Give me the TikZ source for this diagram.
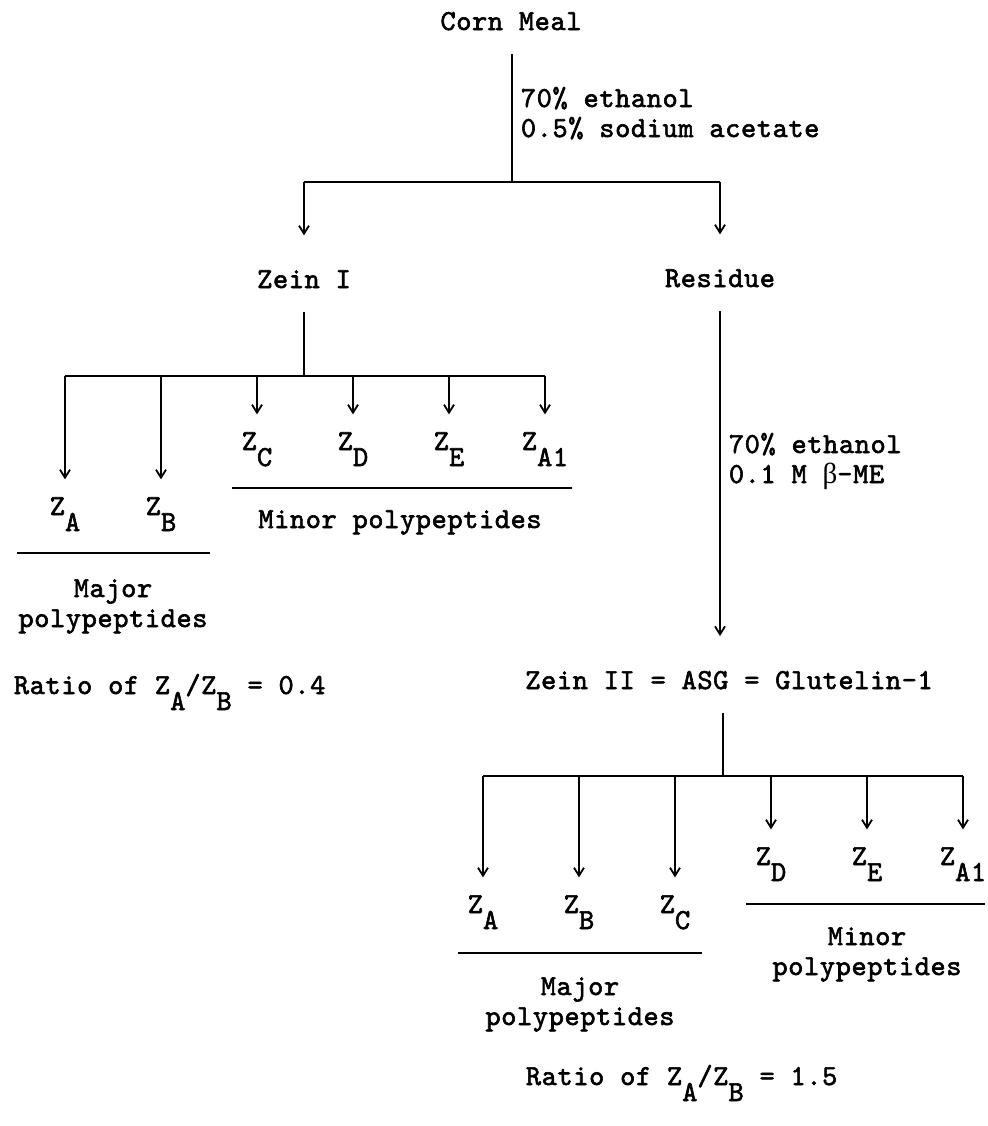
\documentclass[tikz,border=0pt]{standalone}
\usepackage{fontspec}
\setmainfont{lmmono10-regular.otf}[LetterSpace=2,FakeBold=2]
\newfontfamily\grk{Liberation Serif}
\usetikzlibrary{arrows.meta}
\newcommand{\zsub}[1]{\raisebox{-8pt}{#1}}

\begin{document}
\begin{tikzpicture}[x=0.5pt,y=-0.5pt,>={Straight Barb[length=4pt,width=5pt]},line width=0.9pt,
    every node/.style={font=\fontsize{14.5}{15}\selectfont},
    stage/.style={anchor=base,inner xsep=0pt,inner ysep=11.5pt},
    frac/.style={anchor=base,inner xsep=0pt,inner ysep=8.5pt},
    note/.style={anchor=base west,align=left,inner sep=0pt},
    group/.style={anchor=base,align=center,inner sep=0pt},
    feed/.style={->,shorten >=5.5pt}]
    \useasboundingbox (0,0) rectangle (987,1126);
    % first extraction
    \node[stage] (corn) at (511,30) {Corn Meal};
    \node[note] (reag1) at (520,137) {70\% ethanol\\0.5\% sodium acetate};
    \node[stage] (zein1) at (304,288) {Zein I};
    \node[stage] (resid) at (720,287) {Residue};
    \coordinate (j0) at (512,182);\coordinate (j0l) at (304,182);\coordinate (j0r) at (720,182);
    \draw (j0 |- corn.south)--(j0);\draw (j0l)--(j0r);
    \draw[feed] (j0l)--(j0l |- zein1.north);\draw[feed] (j0r)--(j0r |- resid.north);
    % zein I polypeptides
    \coordinate (a1) at (65,376);\coordinate (b1) at (161,376);\coordinate (c1) at (257,376);
    \coordinate (d1) at (353,376);\coordinate (e1) at (449,376);\coordinate (f1) at (545,376);
    \draw (zein1.south)--(zein1.south |- a1);\draw (a1)--(f1);
    \node[frac] (za1) at (65,515) {Z\zsub{A}};
    \node[frac] (zb1) at (161,515) {Z\zsub{B}};
    \node[frac] (zc1) at (257,450) {Z\zsub{C}};
    \node[frac] (zd1) at (353,450) {Z\zsub{D}};
    \node[frac] (ze1) at (449,450) {Z\zsub{E}};
    \node[frac] (zf1) at (545,450) {Z\zsub{A1}};
    \draw[->] (a1)--(za1.north);\draw[->] (b1)--(zb1.north);\draw[->] (c1)--(zc1.north);
    \draw[->] (d1)--(zd1.north);\draw[->] (e1)--(ze1.north);\draw[->] (f1)--(zf1.north);
    \draw (232,488)--(572,488);\draw (17,553)--(210,553);
    \node[group] (minor1) at (400,528) {Minor polypeptides};
    \node[group] (major1) at (113,627) {Major\\polypeptides};
    \node[note] (ratio1) at (13,694) {Ratio of Z\zsub{A}/Z\zsub{B} = 0.4};
    % second extraction
    \node[note] (reag2) at (728,483) {70\% ethanol\\0.1 M {\grk β}-ME};
    \node[stage] (zein2) at (729,689) {Zein II = ASG = Glutelin-1};
    \draw[feed] (resid.south)--(resid.south |- zein2.north);
    % zein II polypeptides
    \coordinate (a2) at (483,776);\coordinate (b2) at (579,776);\coordinate (c2) at (675,776);
    \coordinate (d2) at (771,776);\coordinate (e2) at (867,776);\coordinate (f2) at (963,776);
    \coordinate (k2) at (723,776);
    \draw (k2 |- zein2.south)--(k2);\draw (a2)--(f2);
    \node[frac] (za2) at (483,913) {Z\zsub{A}};
    \node[frac] (zb2) at (579,913) {Z\zsub{B}};
    \node[frac] (zc2) at (675,913) {Z\zsub{C}};
    \node[frac] (zd2) at (771,865) {Z\zsub{D}};
    \node[frac] (ze2) at (867,865) {Z\zsub{E}};
    \node[frac] (zf2) at (963,865) {Z\zsub{A1}};
    \draw[->] (a2)--(za2.north);\draw[->] (b2)--(zb2.north);\draw[->] (c2)--(zc2.north);
    \draw[->] (d2)--(zd2.north);\draw[->] (e2)--(ze2.north);\draw[->] (f2)--(zf2.north);
    \draw (458,953)--(702,953);\draw (746,904)--(985,904);
    \node[group] (major2) at (580,1025) {Major\\polypeptides};
    \node[group] (minor2) at (867,975) {Minor\\polypeptides};
    \node[note] (ratio2) at (525,1085) {Ratio of Z\zsub{A}/Z\zsub{B} = 1.5};
  \end{tikzpicture}
\end{document}
